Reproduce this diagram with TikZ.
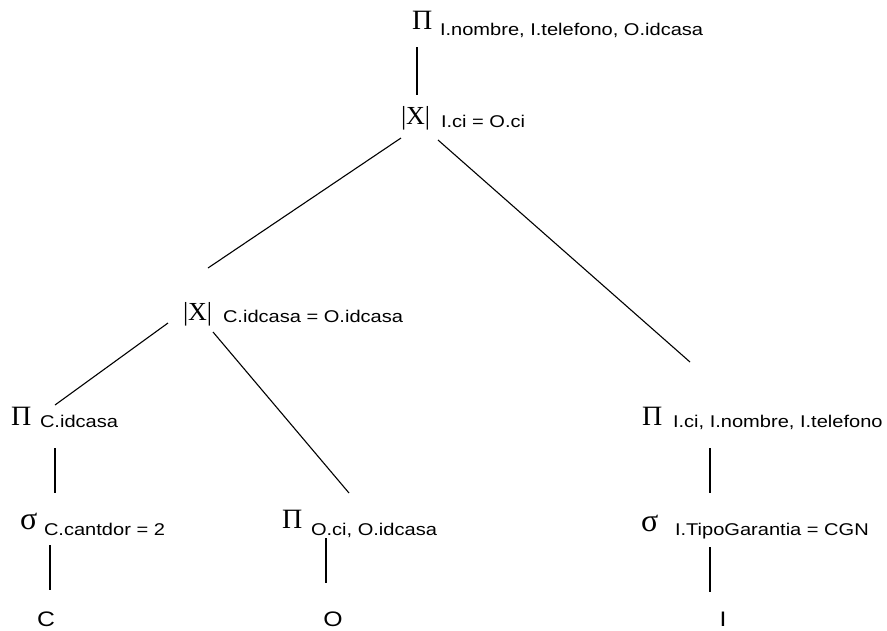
\documentclass[tikz,border=0pt]{standalone}
\usepackage{fontspec}
\setmainfont{Liberation Serif}
\setsansfont{Liberation Sans}
\usepackage{graphicx}
\newcommand{\lbl}[1]{\scalebox{1.18}[1]{\sffamily\fontsize{17}{20}\selectfont #1}}
\newcommand{\leafname}[1]{\scalebox{1.18}[1]{\sffamily\fontsize{21}{24}\selectfont #1}}
\begin{document}
\begin{tikzpicture}[x=1pt,y=-1pt,
  every node/.style={inner sep=0pt,outer sep=0pt},
  pisym/.style={anchor=base west,font=\fontsize{28}{30}\selectfont},
  sigsym/.style={anchor=base west,font=\fontsize{32}{34}\selectfont},
  joinsym/.style={anchor=base west,font=\fontsize{26}{28}\selectfont},
  lab/.style={anchor=base west},
  leaf/.style={anchor=base},
  conn/.style={line width=1.1pt,black}]
\useasboundingbox (0,0) rectangle (887,630);
% top projection
\node[pisym] (p1) at (412,29) {Π};
\node[lab] (p1l) at (440,35) {\lbl{I.nombre, I.telefono, O.idcasa}};
% top join
\node[joinsym] (j1) at (401,124) {|X|};
\node[lab] (j1l) at (441,127) {\lbl{I.ci = O.ci}};
% second join
\node[joinsym] (j2) at (183,320) {|X|};
\node[lab] (j2l) at (223,322) {\lbl{C.idcasa = O.idcasa}};
% left projection
\node[pisym] (p2) at (11,425) {Π};
\node[lab] (p2l) at (40,427) {\lbl{C.idcasa}};
% left selection
\node[sigsym] (s1) at (20,529) {σ};
\node[lab] (s1l) at (44,535) {\lbl{C.cantdor = 2}};
% middle projection
\node[pisym] (p3) at (282,528) {Π};
\node[lab] (p3l) at (311,535) {\lbl{O.ci, O.idcasa}};
% right projection
\node[pisym] (p4) at (642,425) {Π};
\node[lab] (p4l) at (673,427) {\lbl{I.ci, I.nombre, I.telefono}};
% right selection
\node[sigsym] (s2) at (641,531) {σ};
\node[lab] (s2l) at (675,535) {\lbl{I.TipoGarantia = CGN}};
% leaves
\node[leaf] (rc) at (46,626) {\leafname{C}};
\node[leaf] (ro) at (333,626) {\leafname{O}};
\node[leaf] (ri) at (723,626) {\leafname{I}};
% connector end points
\coordinate (a1) at (417,47);  \coordinate (b1) at (417,95);
\coordinate (a2) at (401,138); \coordinate (b2) at (208,268);
\coordinate (a3) at (438,140); \coordinate (b3) at (690,362);
\coordinate (a4) at (168,323); \coordinate (b4) at (55,405);
\coordinate (a5) at (213,332); \coordinate (b5) at (349,493);
\coordinate (a6) at (55,448);  \coordinate (b6) at (55,493);
\coordinate (a7) at (50,545);  \coordinate (b7) at (50,590);
\coordinate (a8) at (326,538); \coordinate (b8) at (326,583);
\coordinate (a9) at (710,448); \coordinate (b9) at (710,493);
\coordinate (a10) at (710,547); \coordinate (b10) at (710,592);
\foreach \i in {1,...,10} \draw[conn] (a\i) -- (b\i);
\end{tikzpicture}
\end{document}
